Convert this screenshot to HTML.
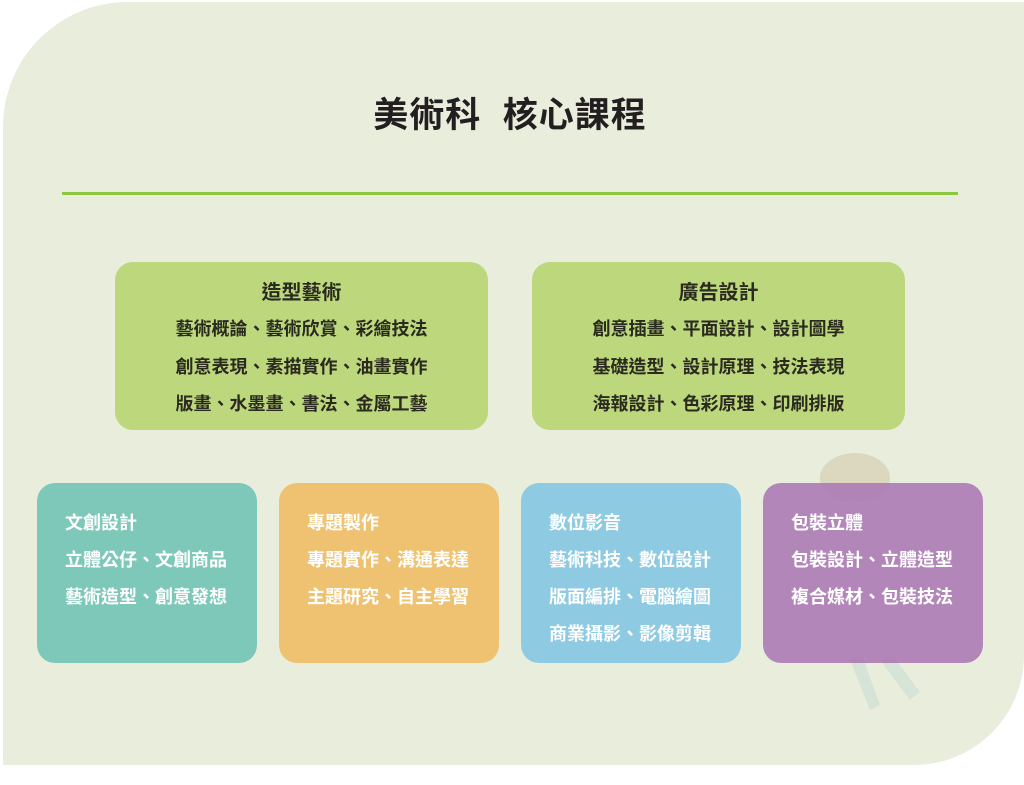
<!DOCTYPE html>
<html><head><meta charset="utf-8"><style>
body{margin:0;width:1024px;height:785px;background:#fff;position:relative;overflow:hidden;font-family:"Liberation Sans","Noto Sans CJK TC",sans-serif}
.bg2{position:absolute;left:3px;top:2px;width:1021px;height:763px;background:#e9eddc;border-radius:125px 0 110px 0}
h1{position:absolute;left:0;width:1020px;top:87px;margin:0;text-align:center;font-size:35px;font-weight:bold;color:#231f20;letter-spacing:1px}
.line{position:absolute;left:62px;top:192px;width:896px;height:3px;background:#8dc63f}
.box{position:absolute;border-radius:18px}
.g{background:#bdd77d;width:373px;height:168px;top:262px;text-align:center;color:#2a2a1f;font-weight:bold}
.g div{position:absolute;left:0;width:100%;font-size:18px;line-height:20px}
.g .h{font-size:20px}
.s{top:483px;width:220px;height:180px;color:#fff;font-weight:bold}
.s div{position:absolute;left:28px;font-size:18px;line-height:20px;white-space:nowrap}
</style></head><body>
<div class="bg2"></div>
<h1>美術科&nbsp; 核心課程</h1>
<div class="line"></div>
<div class="box g" style="left:115px"><div class="h" style="top:21px">造型藝術</div><div style="top:57px">藝術概論、藝術欣賞、彩繪技法</div><div style="top:95px">創意表現、素描實作、油畫實作</div><div style="top:132px">版畫、水墨畫、書法、金屬工藝</div></div>
<div class="box g" style="left:532px"><div class="h" style="top:21px">廣告設計</div><div style="top:57px">創意插畫、平面設計、設計圖學</div><div style="top:95px">基礎造型、設計原理、技法表現</div><div style="top:132px">海報設計、色彩原理、印刷排版</div></div>
<div class="box s" style="left:37px;background:#7ec8b9"><div style="top:30px">文創設計</div><div style="top:67px">立體公仔、文創商品</div><div style="top:104px">藝術造型、創意發想</div></div>
<div class="box s" style="left:279px;background:#efc271"><div style="top:30px">專題製作</div><div style="top:67px">專題實作、溝通表達</div><div style="top:104px">主題研究、自主學習</div></div>
<div class="box s" style="left:521px;background:#8ecbe2"><div style="top:30px">數位影音</div><div style="top:67px">藝術科技、數位設計</div><div style="top:104px">版面編排、電腦繪圖</div><div style="top:141px">商業攝影、影像剪輯</div></div>
<svg style="position:absolute;left:0;top:0" width="1024" height="785">
<g opacity="0.25"><ellipse cx="855" cy="478" rx="35" ry="25" fill="#b89a6a"/><path d="M850 660 L870 710 L880 705 L862 655Z M880 660 L910 700 L920 692 L892 655Z" fill="#9fc9c7"/></g>
</svg>
<div class="box s" style="left:763px;background:rgba(170,120,180,0.88)"><div style="top:30px">包裝立體</div><div style="top:67px">包裝設計、立體造型</div><div style="top:104px">複合媒材、包裝技法</div></div>
</body></html>
